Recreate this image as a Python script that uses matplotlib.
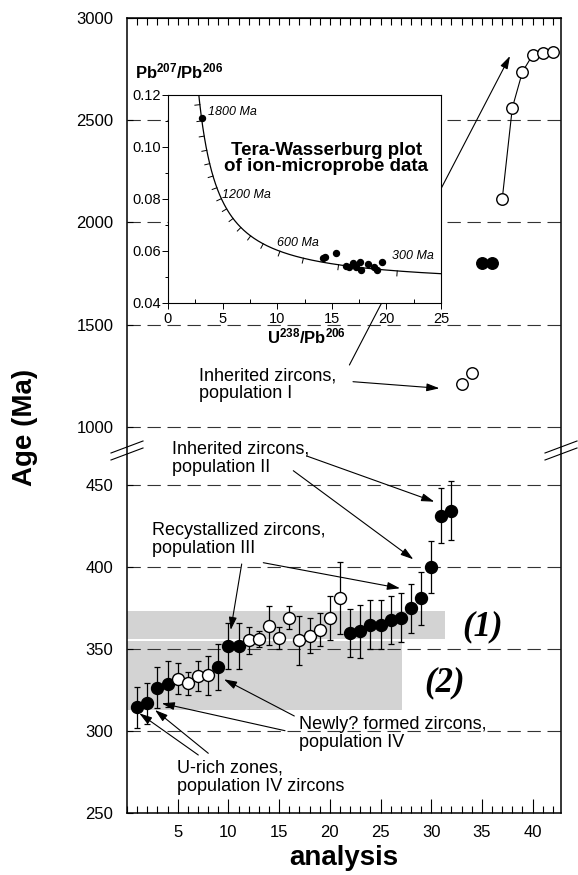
import numpy as np
import matplotlib
matplotlib.use('Agg')
import matplotlib.pyplot as plt
from matplotlib.ticker import MultipleLocator, FormatStrFormatter, NullLocator
from matplotlib.lines import Line2D

plt.rcParams['font.family'] = ['Liberation Sans', 'DejaVu Sans']
plt.rcParams['mathtext.fontset'] = 'custom'
plt.rcParams['mathtext.rm'] = 'Liberation Sans'
plt.rcParams['mathtext.bf'] = 'Liberation Sans:bold'
plt.rcParams['mathtext.it'] = 'Liberation Sans:italic'

# ---------------- data ----------------
analysis_lower = list(range(1, 33))
age_lower = [314.6, 316.8, 326.4, 328.4, 332.0, 329.0, 333.6, 334.0, 339.0, 351.6,
             351.6, 355.2, 356.0, 364.3, 356.7, 369.0, 355.2, 358.0, 361.7, 369.0,
             380.9, 359.7, 360.7, 364.7, 364.7, 367.8, 369.0, 374.8, 380.9, 400.0,
             431.4, 434.4]
err_lower = [12.5, 12.5, 12.5, 14.0, 9.3, 7.0, 9.0, 12.0, 14.0, 14.0,
             14.0, 8.0, 5.0, 12.0, 7.0, 7.0, 15.0, 10.6, 10.0, 13.6,
             22.0, 14.8, 16.0, 15.0, 15.0, 14.5, 15.0, 15.0, 16.0, 16.0,
             17.0, 18.0]
filled_lower = [1, 1, 1, 1, 0, 0, 0, 0, 1, 1,
                1, 0, 0, 0, 0, 0, 0, 0, 0, 0,
                0, 1, 1, 1, 1, 1, 1, 1, 1, 1,
                1, 1]

analysis_pop1 = [33, 34]
age_pop1 = [1210, 1265]
analysis_1800 = [35, 36]
age_1800 = [1800, 1800]
analysis_arch = [37, 38, 39, 40, 41, 42]
age_arch = [2113, 2561, 2737, 2819, 2830, 2835]

box_labels = ['(1)', '(2)']
box_x_end = [31.4, 27.1]
box_age_lo = [356, 313]
box_age_hi = [373, 355]

ytick_vals = [250, 300, 350, 400, 450, 1000, 1500, 2000, 2500, 3000]
grid_levels = [300, 350, 400, 450, 1000, 1500, 2000, 2500]

# Tera-Wasserburg inset data
tw_x = [3.08, 14.2, 14.4, 15.36, 16.3, 16.6, 16.9, 17.2, 17.6, 17.7, 18.3, 18.9, 19.1, 19.6]
tw_y = [0.111, 0.0572, 0.0578, 0.0591, 0.0543, 0.0537, 0.0555, 0.0540, 0.0559, 0.0527,
        0.0550, 0.0537, 0.0527, 0.0559]
concordia_label_ages = [1800, 1200, 600, 300]
concordia_tick_ages = list(range(300, 2000, 100))
L238 = 1.55125e-10
L235 = 9.8485e-10
U_RATIO = 137.88


def concordia(t_ma):
    t = np.asarray(t_ma, float) * 1e6
    e8 = np.exp(L238 * t) - 1.0
    e5 = np.exp(L235 * t) - 1.0
    return 1.0 / e8, e5 / e8 / U_RATIO


# ---------------- broken y scale ----------------
AGE_PTS = [250.0, 460.0, 950.0, 3000.0]
U_PTS = [0.0, 344.4, 375.8, 795.0]


def _pl(x, xp, fp):
    x = np.asarray(x, float)
    y = np.interp(x, xp, fp)
    y = np.where(x < xp[0], fp[0] + (x - xp[0]) * (fp[1] - fp[0]) / (xp[1] - xp[0]), y)
    y = np.where(x > xp[-1], fp[-1] + (x - xp[-1]) * (fp[-1] - fp[-2]) / (xp[-1] - xp[-2]), y)
    return y


def fwd(a):
    return _pl(a, AGE_PTS, U_PTS)


def inv(u):
    return _pl(u, U_PTS, AGE_PTS)


W, H = 578, 875
fig = plt.figure(figsize=(W / 100, H / 100), dpi=100)
L, R, T, B = 127, 561, 18, 813
ax = fig.add_axes([L / W, (H - B) / H, (R - L) / W, (B - T) / H])
ax.set_yscale('function', functions=(fwd, inv))
ax.set_ylim(250, 3000)
ax.set_xlim(0, 42.8)


def P(px, py):
    return ((px - L) / (R - L), (B - py) / (B - T))


for s in ax.spines.values():
    s.set_linewidth(1.1)

ax.set_yticks(ytick_vals, labels=[str(v) for v in ytick_vals])
ax.yaxis.set_minor_locator(NullLocator())
ax.tick_params(axis='y', direction='in', length=4, width=0.8, pad=9.9, labelsize=12)
ax.xaxis.set_major_locator(MultipleLocator(5))
ax.xaxis.set_minor_locator(MultipleLocator(1))
ax.set_xticks(range(5, 41, 5))
ax.tick_params(axis='x', which='major', direction='in', length=10, width=0.8, pad=8.6, labelsize=12)
ax.tick_params(axis='x', which='minor', direction='in', length=4.7, width=0.8)

sec = ax.secondary_xaxis('top')
sec.set_xticks(range(1, 43))
sec.set_xticklabels([])
sec.tick_params(direction='in', length=4.7, width=0.8)

for lv in grid_levels:
    ax.axhline(lv, color='#333333', lw=0.8, dashes=(12, 6), zorder=0.6)

for xe, lo, hi in zip(box_x_end, box_age_lo, box_age_hi):
    ax.fill_between([0, xe], [lo, lo], [hi, hi], color='#d3d3d3', lw=0, zorder=0.3)

ax.text(*P(482.7, 626.7), box_labels[0], transform=ax.transAxes, ha='center', va='center',
        fontfamily='Liberation Serif', fontstyle='italic', fontweight='bold', fontsize=25)
ax.text(*P(445, 683.3), box_labels[1], transform=ax.transAxes, ha='center', va='center',
        fontfamily='Liberation Serif', fontstyle='italic', fontweight='bold', fontsize=25)

# data
xl = np.array(analysis_lower, float)
yl = np.array(age_lower, float)
el = np.array(err_lower, float)
fl = np.array(filled_lower, bool)
ax.errorbar(xl, yl, yerr=el, fmt='none', ecolor='k', elinewidth=0.9, capsize=2.5,
            capthick=0.9, zorder=2)
ax.plot(xl[fl], yl[fl], 'o', ms=8.6, mfc='k', mec='k', mew=1, zorder=3)
ax.plot(xl[~fl], yl[~fl], 'o', ms=8.6, mfc='white', mec='k', mew=1, zorder=3)

ax.plot(analysis_pop1, age_pop1, 'o', ms=8.3, mfc='white', mec='k', mew=1, zorder=3)
ax.plot(analysis_1800, age_1800, 'o', ms=8.3, mfc='k', mec='k', mew=1, zorder=3)
ax.plot(analysis_arch, age_arch, '-', color='k', lw=0.8, zorder=2.5)
ax.plot(analysis_arch, age_arch, 'o', ms=8.3, mfc='white', mec='k', mew=1, zorder=3)

# annotations
tkw = dict(transform=ax.transAxes, ha='left', va='center', fontsize=13, linespacing=1.05)
ax.text(*P(199, 385), 'Inherited zircons,\npopulation I', **tkw)
ax.text(*P(171.7, 458.3), 'Inherited zircons,\npopulation II', **tkw)
ax.text(*P(151.7, 539.7), 'Recystallized zircons,\npopulation III', **tkw)
ax.text(*P(299, 733.7), 'Newly? formed zircons,\npopulation IV', **tkw)
ax.text(*P(176.7, 777.3), 'U-rich zones,\npopulation IV zircons', **tkw)

aprops = dict(arrowstyle='-|>,head_length=0.55,head_width=0.17', mutation_scale=14,
              lw=0.8, color='k', shrinkA=0, shrinkB=0)
arrows = [((349.4, 365), (510, 56)),
          ((353, 381.7), (439.4, 388.3)),
          ((306.7, 456), (434.3, 501.7)),
          ((293.3, 470.7), (413.3, 559.3)),
          ((263.3, 562.7), (400, 588.3)),
          ((241.7, 564), (230.7, 630)),
          ((294.3, 716), (224, 679.3)),
          ((285, 730.7), (161.7, 703.3)),
          ((198.3, 755), (139.3, 713.3)),
          ((208.3, 753.3), (155, 710))]
for (s, e) in arrows:
    ax.annotate('', xy=P(*e), xytext=P(*s), xycoords='axes fraction',
                textcoords='axes fraction', arrowprops=aprops, zorder=1.5)

# axis labels
fig.text(25 / W, 1 - 427 / H, 'Age (Ma)', rotation=90, ha='center', va='center',
         fontsize=20, fontweight='bold')
fig.text(344 / W, 1 - 858 / H, 'analysis', ha='center', va='center',
         fontsize=20, fontweight='bold')

# break marks
for sx in (L, R):
    for yc in (447, 454):
        fig.add_artist(Line2D([(sx - 16) / W, (sx + 16) / W],
                              [1 - (yc + 6) / H, 1 - (yc - 6) / H],
                              transform=fig.transFigure, color='k', lw=0.8))

# ---------------- inset ----------------
IL, IR, IT, IB = 168, 441, 95, 303
axin = fig.add_axes([IL / W, (H - IB) / H, (IR - IL) / W, (IB - IT) / H])
axin.set_xlim(0, 25)
axin.set_ylim(0.04, 0.12)
for s in axin.spines.values():
    s.set_linewidth(0.8)

tc = np.linspace(230, 2000, 500)
cx, cy = concordia(tc)
axin.plot(cx, cy, '-', color='k', lw=0.9)

# concordia age ticks (drawn perpendicular, on the lower-left side)
fig.canvas.draw()
tx, ty = concordia(concordia_tick_ages)
tx2, ty2 = concordia(np.array(concordia_tick_ages, float) - 1.0)
d0 = axin.transData.transform(np.column_stack([tx, ty]))
d1 = axin.transData.transform(np.column_stack([tx2, ty2]))
tang = d1 - d0
tang /= np.linalg.norm(tang, axis=1)[:, None]
norm = np.column_stack([tang[:, 1], -tang[:, 0]])
tick_len = 5.0
inv_t = axin.transData.inverted()
for p0, n in zip(d0, norm):
    q = inv_t.transform(np.vstack([p0, p0 + n * tick_len]))
    axin.plot(q[:, 0], q[:, 1], '-', color='k', lw=0.7)

axin.plot(tw_x, tw_y, 'o', ms=4.3, color='k', zorder=3)

lab_pos = {1800: (3.69, 0.1136), 1200: (4.92, 0.0815), 600: (9.95, 0.063), 300: (20.48, 0.0581)}
for a in concordia_label_ages:
    axin.text(*lab_pos[a], f'{a} Ma', ha='left', va='center', fontsize=9, fontstyle='italic')

axin.text(0.579, 0.694, 'Tera-Wasserburg plot\nof ion-microprobe data', transform=axin.transAxes,
          ha='center', va='center', fontsize=13.5, fontweight='bold', linespacing=0.95)

axin.xaxis.set_major_locator(MultipleLocator(5))
axin.xaxis.set_minor_locator(MultipleLocator(2.5))
axin.yaxis.set_major_locator(MultipleLocator(0.02))
axin.yaxis.set_minor_locator(MultipleLocator(0.01))
axin.yaxis.set_major_formatter(FormatStrFormatter('%.2f'))
axin.tick_params(which='major', direction='out', length=4.2, width=0.7, labelsize=10.5, pad=0.8)
axin.tick_params(axis='x', which='major', pad=2)
axin.tick_params(axis='x', which='minor', direction='in', length=3, width=0.7)
axin.tick_params(axis='y', which='minor', direction='out', length=2, width=0.7)

axin.text(-0.121, 1.112, r'$\mathbf{Pb^{207}/Pb^{206}}$', transform=axin.transAxes,
          ha='left', va='center', fontsize=12)
axin.text(0.509, -0.162, r'$\mathbf{U^{238}/Pb^{206}}$', transform=axin.transAxes,
          ha='center', va='center', fontsize=12)

fig.savefig('out.png', dpi=100)
